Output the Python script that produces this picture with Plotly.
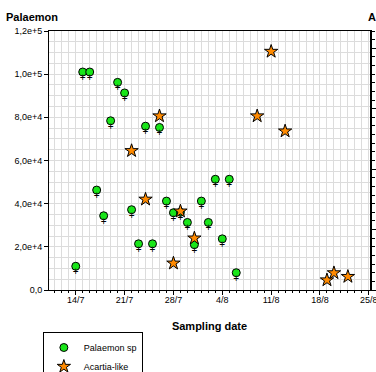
import plotly.graph_objects as go

# ---- data ----
palaemon_dates = ["2023-07-14", "2023-07-15", "2023-07-16", "2023-07-17", "2023-07-18",
                  "2023-07-19", "2023-07-20", "2023-07-21", "2023-07-22", "2023-07-23",
                  "2023-07-24", "2023-07-25", "2023-07-26", "2023-07-27", "2023-07-28",
                  "2023-07-29", "2023-07-30", "2023-07-31", "2023-08-01", "2023-08-02",
                  "2023-08-03", "2023-08-04", "2023-08-05", "2023-08-06"]
palaemon_values = [11000, 101000, 101000, 46300, 34400,
                   78400, 96200, 91300, 37200, 21400,
                   75900, 21400, 75300, 41200, 35800,
                   36000, 31300, 21000, 41200, 31300,
                   51300, 23700, 51300, 8000]

acartia_dates = ["2023-07-22", "2023-07-24", "2023-07-26", "2023-07-28", "2023-07-29",
                 "2023-07-31", "2023-08-09", "2023-08-11", "2023-08-13",
                 "2023-08-19", "2023-08-20", "2023-08-22"]
acartia_values = [64500, 42000, 80600, 12400, 36500,
                  24000, 80600, 110500, 73600,
                  4600, 7900, 6200]

y_tickvals = [0, 20000, 40000, 60000, 80000, 100000, 120000]
y_ticktext = ["0,0", "2,0e+4", "4,0e+4", "6,0e+4", "8,0e+4", "1,0e+5", "1,2e+5"]

FONT = "Liberation Sans, Arial, sans-serif"
GRID = "#dcdcdc"

fig = go.Figure()

fig.add_trace(go.Scatter(
    x=palaemon_dates, y=palaemon_values, name="Palaemon sp",
    mode="markers+text", text=["<br>+"] * len(palaemon_values),
    textposition="middle center",
    textfont=dict(family=FONT, size=10, color="black"),
    marker=dict(symbol="circle", size=8, color="#19e619",
                line=dict(color="black", width=1)),
    cliponaxis=False,
))

fig.add_trace(go.Scatter(
    x=acartia_dates, y=acartia_values, name="Acartia-like",
    mode="markers", yaxis="y2",
    marker=dict(symbol="star", size=10, color="#ff8a00",
                line=dict(color="black", width=1)),
    cliponaxis=False,
))

fig.update_layout(
    width=376, height=372,
    margin=dict(l=49, r=6, t=31, b=82, autoexpand=False),
    paper_bgcolor="white", plot_bgcolor="white",
    font=dict(family=FONT, size=9, color="black"),
    showlegend=True,
    legend=dict(xref="container", yref="container", x=0.114, y=0.1075,
                xanchor="left", yanchor="top",
                bordercolor="black", borderwidth=1, bgcolor="white",
                font=dict(family=FONT, size=9), tracegroupgap=0,
                itemwidth=30),
    xaxis=dict(
        type="date",
        range=["2023-07-10 04:00", "2023-08-25 04:00"],
        tick0="2023-07-14", dtick=7 * 86400000, tickformat="%-d/%-m",
        ticks="outside", ticklen=4, tickcolor="black",
        showline=True, linecolor="black", linewidth=1, mirror=True,
        showgrid=True, gridcolor=GRID, gridwidth=1,
        minor=dict(dtick=86400000, ticks="outside", ticklen=2, tickcolor="black",
                   showgrid=True, gridcolor=GRID, gridwidth=1),
        title=dict(text="<b>Sampling date</b>", font=dict(family=FONT, size=11), standoff=18),
        tickfont=dict(family=FONT, size=9),
        ticklabeloverflow="allow", ticklabelstandoff=-3,
        zeroline=False, automargin=False,
    ),
    yaxis=dict(
        range=[0, 120000],
        tickvals=y_tickvals, ticktext=y_ticktext,
        ticks="outside", ticklen=4, tickcolor="black",
        showline=True, linecolor="black", linewidth=1,
        showgrid=True, gridcolor=GRID, gridwidth=1,
        minor=dict(dtick=5000, showgrid=True, gridcolor=GRID, gridwidth=1),
        tickfont=dict(family=FONT, size=9),
        zeroline=False, automargin=False,
    ),
    yaxis2=dict(
        range=[0, 120000], overlaying="y", side="right",
        tickmode="linear", tick0=0, dtick=28000,
        ticks="outside", ticklen=5, tickcolor="black",
        showticklabels=False,
        minor=dict(dtick=4000, ticks="outside", ticklen=3, tickcolor="black", showgrid=False),
        showline=True, linecolor="black", linewidth=1.5,
        showgrid=False, zeroline=False, automargin=False,
    ),
    annotations=[
        dict(text="<b>Palaemon</b>", xref="paper", yref="paper", x=-0.14, y=1.054,
             xanchor="left", yanchor="middle", showarrow=False,
             font=dict(family=FONT, size=11, color="black")),
        dict(text="<b>Acartia</b>", xref="paper", yref="paper", x=0.988, y=1.054,
             xanchor="left", yanchor="middle", showarrow=False,
             font=dict(family=FONT, size=11, color="black")),
    ],
)

fig.write_html("out.html", config={"displayModeBar": False},
               post_script="document.body.style.margin='0';")
